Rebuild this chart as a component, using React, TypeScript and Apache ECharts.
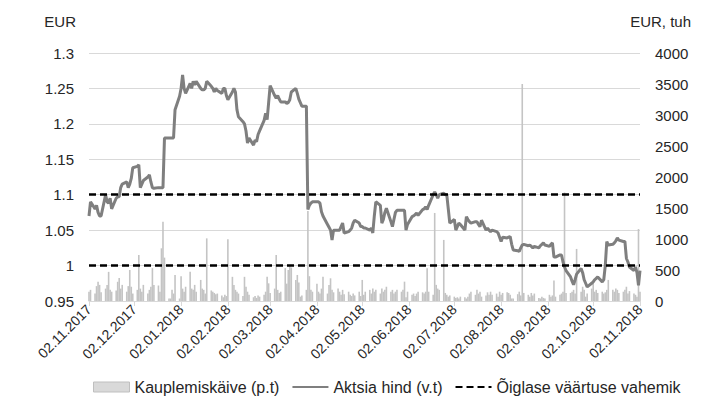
import React, { useEffect, useRef } from "react";
import * as echarts from "echarts";

// Calendar span of the chart (category axis = every calendar day)
const START_UTC = Date.UTC(2017, 10, 2);
const DAY_COUNT = 366;

// Fair value range (EUR)
const fairValueRange = [1.0, 1.1];

// Share price (EUR) per trading day (Mon–Fri), from 02.11.2017
const sharePrice: number[] = [
  1.07, 1.09,
  1.08, 1.085, 1.075, 1.07, 1.07,
  1.1, 1.09, 1.088, 1.095, 1.08,
  1.095, 1.097, 1.097, 1.11, 1.115,
  1.118, 1.11, 1.115, 1.123, 1.138,
  1.14, 1.142, 1.11, 1.115, 1.12,
  1.125, 1.128, 1.118, 1.11, 1.109,
  1.11, 1.11, 1.11, 1.11, 1.18,
  1.18, 1.18, 1.18, 1.18, 1.22,
  1.239, 1.25, 1.269, 1.25, 1.243,
  1.257, 1.25, 1.26, 1.255, 1.26,
  1.25, 1.248, 1.248, 1.25, 1.26,
  1.253, 1.25, 1.245, 1.25, 1.247,
  1.243, 1.25, 1.25, 1.24, 1.234,
  1.245, 1.25, 1.245, 1.22, 1.21,
  1.203, 1.2, 1.19, 1.173, 1.18,
  1.17, 1.177, 1.175, 1.185, 1.19,
  1.205, 1.215, 1.206, 1.23, 1.254,
  1.24, 1.236, 1.24, 1.235, 1.231,
  1.231, 1.229, 1.23, 1.234, 1.245,
  1.25, 1.243, 1.235, 1.23, 1.225,
  1.225, 1.079, 1.085, 1.088, 1.09,
  1.09, 1.09, 1.088, 1.076, 1.07,
  1.058, 1.054, 1.05, 1.036, 1.05,
  1.05, 1.05, 1.055, 1.06, 1.046,
  1.048, 1.05, 1.053, 1.06, 1.064,
  1.06, 1.055, 1.055, 1.053, 1.053,
  1.05, 1.053, 1.046, 1.07, 1.09,
  1.085, 1.06, 1.065, 1.075, 1.081,
  1.062, 1.055, 1.065, 1.075, 1.078,
  1.078, 1.078, 1.078, 1.05, 1.058,
  1.069, 1.07, 1.072, 1.074, 1.071,
  1.079, 1.08, 1.083, 1.079, 1.085,
  1.1, 1.104, 1.1, 1.095, 1.1,
  1.102, 1.1, 1.1, 1.08, 1.06,
  1.065, 1.05, 1.055, 1.06, 1.058,
  1.05, 1.069, 1.065, 1.062, 1.06,
  1.062, 1.062, 1.058, 1.055, 1.064,
  1.05, 1.053, 1.05, 1.048, 1.05,
  1.048, 1.046, 1.04, 1.034, 1.04,
  1.039, 1.04, 1.041, 1.03, 1.022,
  1.021, 1.02, 1.025, 1.029, 1.03,
  1.028, 1.029, 1.027, 1.025, 1.027,
  1.025, 1.028, 1.03, 1.032, 1.029,
  1.027, 1.03, 1.032, 1.012, 1.012,
  1.015, 1.015, 1.005, 0.998, 0.993,
  0.984, 0.978, 0.973, 0.98, 0.988,
  0.996, 0.99, 0.98, 0.975, 0.97,
  0.975, 0.977, 0.98, 0.982, 0.984,
  0.977, 0.98, 1.0, 1.034, 1.029,
  1.03, 1.032, 1.035, 1.039, 1.036,
  1.034, 1.034, 1.01, 1.005, 0.998,
  0.993, 0.998, 0.99, 0.972, 0.993,
];

// Trading turnover (EUR thousand) per trading day
const turnover: number[] = [
  150, 180,
  120, 240, 310, 260, 140,
  200, 260, 470, 180, 150,
  170, 310, 370, 200, 260,
  150, 240, 500, 230, 120,
  180, 740, 200, 150, 260,
  120, 180, 230, 530, 260,
  250, 150, 850, 1280, 700,
  40, 40, 180, 120, 420,
  40, 400, 200, 150, 230,
  470, 200, 180, 260, 150,
  340, 200, 180, 120, 1010,
  170, 150, 130, 110, 120,
  90, 60, 100, 80, 995,
  390, 260, 180, 150, 120,
  80, 390, 230, 150, 100,
  60, 80, 50, 90, 70,
  100, 150, 390, 285, 130,
  200, 740, 180, 130, 150,
  530, 280, 500, 560, 540,
  340, 420, 300, 70, 90,
  180, 1450, 400, 180, 150,
  280, 150, 120, 200, 390,
  120, 260, 366, 180, 140,
  200, 150, 100, 180, 110,
  150, 100, 80, 120, 90,
  150, 80, 340, 100, 150,
  180, 120, 200, 150, 180,
  120, 200, 150, 180, 230,
  150, 180, 120, 150, 180,
  150, 180, 312, 60, 150,
  100, 120, 80, 120, 150,
  140, 120, 150, 528, 150,
  100, 1420, 260, 200, 180,
  985, 130, 100, 70, 90,
  70, 50, 60, 40, 70,
  60, 40, 70, 120, 150,
  100, 180, 120, 150, 70,
  90, 140, 100, 150, 100,
  120, 70, 150, 100, 130,
  140, 130, 100, 40, 40,
  110, 150, 90, 3500, 130,
  100, 70, 130, 90, 120,
  50, 40, 70, 50, 40,
  100, 70, 90, 330, 70,
  100, 120, 150, 1750, 130,
  130, 150, 180, 120, 840,
  150, 230, 180, 70, 120,
  200, 285, 150, 180, 130,
  150, 120, 140, 180, 340,
  180, 150, 200, 180, 130,
  150, 180, 230, 120, 160,
  120, 100, 70, 1160, 150,
];

const pad = (n: number) => String(n).padStart(2, "0");
const dates: string[] = [];
const priceData: (number | null)[] = [];
const turnoverData: (number | null)[] = [];
{
  let k = 0;
  for (let i = 0; i < DAY_COUNT; i++) {
    const d = new Date(START_UTC + i * 86400000);
    dates.push(`${pad(d.getUTCDate())}.${pad(d.getUTCMonth() + 1)}.${d.getUTCFullYear()}`);
    const wd = d.getUTCDay();
    if (wd >= 1 && wd <= 5) {
      priceData.push(k < sharePrice.length ? sharePrice[k] : null);
      turnoverData.push(k < turnover.length ? turnover[k] : null);
      k++;
    } else {
      priceData.push(null);
      turnoverData.push(null);
    }
  }
}

const isMonthTick = (_i: number, v: string) => v.startsWith("02.");

const FONT = "'Liberation Sans', Arial, sans-serif";
const TEXT = "#262626";
const GRID = "#d9d9d9";

export default function App() {
  const ref = useRef<HTMLDivElement>(null);
  useEffect(() => {
    if (!ref.current) return;
    const chart = echarts.init(ref.current, undefined, { renderer: "svg" });
    chart.setOption({
      animation: false,
      backgroundColor: "#fff",
      textStyle: { fontFamily: FONT },
      grid: { left: 89, right: 64, top: 53, bottom: 102 },
      graphic: [
        { type: "text", right: 704 - 76, top: 14, style: { text: "EUR", font: `15px ${FONT}`, fill: TEXT } },
        { type: "text", right: 704 - 691, top: 14, style: { text: "EUR, tuh", font: `15px ${FONT}`, fill: TEXT } },
      ],
      legend: {
        left: 88,
        top: 374,
        itemWidth: 36,
        itemHeight: 10,
        itemGap: 12,
        textStyle: { fontSize: 16, color: TEXT, fontFamily: FONT },
        data: [
          { name: "Kauplemiskäive (p.t)", icon: "rect", itemStyle: { color: "#d9d9d9", borderColor: "#bfbfbf", borderWidth: 1 } },
          { name: "Aktsia hind (v.t)", itemStyle: { opacity: 0 } },
          { name: "Õiglase väärtuse vahemik", itemStyle: { opacity: 0 } },
        ],
      },
      xAxis: {
        type: "category",
        data: dates,
        boundaryGap: false,
        axisLine: { show: true, lineStyle: { color: GRID } },
        axisTick: { show: true, interval: isMonthTick, length: 5, lineStyle: { color: GRID } },
        axisLabel: { interval: isMonthTick, rotate: 45, fontSize: 14, color: TEXT, margin: 6, fontFamily: FONT },
        splitLine: { show: false },
      },
      yAxis: [
        {
          type: "value",
          min: 0.95,
          max: 1.3,
          interval: 0.05,
          axisLine: { show: false },
          axisTick: { show: false },
          axisLabel: { fontSize: 15, color: TEXT, margin: 15, fontFamily: FONT },
          splitLine: { show: true, lineStyle: { color: GRID } },
        },
        {
          type: "value",
          min: 0,
          max: 4000,
          interval: 500,
          axisLine: { show: false },
          axisTick: { show: false },
          axisLabel: { fontSize: 15, color: TEXT, margin: 15, fontFamily: FONT, formatter: (v: number) => String(v) },
          splitLine: { show: false },
        },
      ],
      series: [
        {
          name: "Kauplemiskäive (p.t)",
          type: "bar",
          yAxisIndex: 1,
          data: turnoverData,
          barWidth: 1.6,
          itemStyle: { color: "#c4c4c4" },
        },
        {
          name: "Õiglase väärtuse vahemik",
          type: "line",
          yAxisIndex: 0,
          data: [],
          symbol: "none",
          itemStyle: { color: "#000" },
          lineStyle: { color: "#000", width: 2.5, type: [7, 4] },
          markLine: {
            silent: true,
            symbol: ["none", "none"],
            label: { show: false },
            lineStyle: { color: "#000", width: 2.5, type: [7, 4] },
            data: fairValueRange.map((v) => ({ yAxis: v })),
          },
        },
        {
          name: "Aktsia hind (v.t)",
          type: "line",
          yAxisIndex: 0,
          data: priceData,
          connectNulls: true,
          symbol: "none",
          showSymbol: false,
          itemStyle: { color: "#7f7f7f" },
          lineStyle: { color: "#7f7f7f", width: 3 },
        },
      ],
    });
    return () => chart.dispose();
  }, []);
  return (
    <div
      ref={ref}
      style={{ position: "fixed", left: 0, top: 0, width: 704, height: 403, background: "#fff" }}
    />
  );
}
